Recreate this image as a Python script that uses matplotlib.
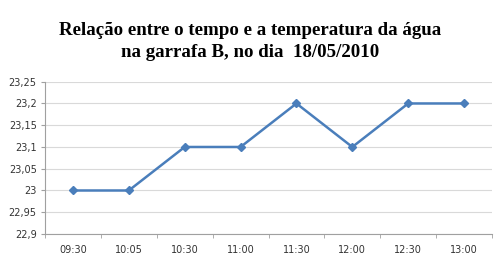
import matplotlib.pyplot as plt
import numpy as np

# data
horas = ['09:30', '10:05', '10:30', '11:00', '11:30', '12:00', '12:30', '13:00']
temperatura = [23.0, 23.0, 23.1, 23.1, 23.2, 23.1, 23.2, 23.2]
yticks = [22.9, 22.95, 23.0, 23.05, 23.1, 23.15, 23.2, 23.25]
ylabels = ['22,9', '22,95', '23', '23,05', '23,1', '23,15', '23,2', '23,25']

fig = plt.figure(figsize=(5, 2.59), dpi=100)
ax = fig.add_axes([0.09, 0.0965, 0.894, 0.588])

x = np.arange(len(horas))
ax.plot(x, temperatura, color='#4a7ebb', linewidth=1.8, marker='D', markersize=4.5,
        markerfacecolor='#4a7ebb', markeredgecolor='#4a7ebb', zorder=3)

ax.set_xlim(-0.5, len(horas) - 0.5)
ax.set_ylim(22.9, 23.25)
ax.set_yticks(yticks)
ax.set_yticklabels(ylabels)
ax.set_xticks(x)
ax.set_xticklabels(horas)
# ticks at category boundaries
ax.set_xticks(np.arange(len(horas) + 1) - 0.5, minor=True)
ax.tick_params(axis='x', which='major', length=0, pad=8)
ax.tick_params(axis='x', which='minor', length=3, color='#a0a0a0')
ax.tick_params(axis='y', length=3, color='#a0a0a0', pad=3)
ax.tick_params(labelsize=7, labelcolor='#333333')

ax.grid(axis='y', color='#d9d9d9', linewidth=0.8)
ax.set_axisbelow(True)
for s in ['top', 'right']:
    ax.spines[s].set_visible(False)
ax.spines['left'].set_color('#a0a0a0')
ax.spines['bottom'].set_color('#a0a0a0')

fig.text(0.5, 0.84, 'Relação entre o tempo e a temperatura da água\nna garrafa B, no dia  18/05/2010',
         ha='center', va='center', fontsize=13.6, fontweight='bold',
         family='Liberation Serif', linespacing=1.4)

plt.savefig('out.png', dpi=100)
